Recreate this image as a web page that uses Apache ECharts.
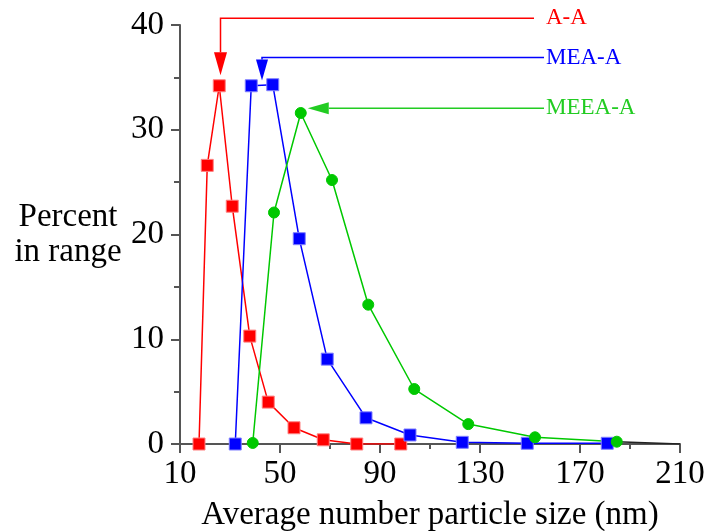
<!DOCTYPE html>
<html>
<head>
<meta charset="utf-8">
<script src="https://cdn.jsdelivr.net/npm/echarts@6/dist/echarts.min.js"></script>
<style>
  html, body { margin: 0; padding: 0; background: #fff; }
  #chart { width: 713px; height: 531px; }
</style>
</head>
<body>
<div id="chart"></div>
<script>
// particle size (nm) / percent in range
const aaSize = [17.6, 20.9, 25.7, 30.9, 37.9, 45.3, 55.6, 67.3, 80.7, 98.3];
const aaPct = [0, 26.6, 34.2, 22.7, 10.3, 4.0, 1.55, 0.4, 0, 0];

const meaSize = [32.1, 38.5, 47.1, 57.7, 68.9, 84.4, 102, 122.9, 148.9, 180.9];
const meaPct = [0, 34.2, 34.3, 19.6, 8.1, 2.5, 0.86, 0.16, 0.07, 0.07];

const meeaSize = [39.1, 47.6, 58.3, 70.8, 85.3, 103.7, 125.3, 152, 184.7];
const meeaPct = [0.1, 22.1, 31.6, 25.2, 13.3, 5.25, 1.9, 0.64, 0.22];

// black tail running to the end of the axis
const tailSize = [184.7, 210];
const tailPct = [0.22, 0];

const seriesNames = ['A-A', 'MEA-A', 'MEEA-A'];

const font = 'Liberation Serif';
const red = '#ff0000', blue = '#0000ff', green = '#00c800';

function pairs(xs, ys) {
    return xs.map((x, i) => [x, ys[i]]);
}

const chart = echarts.init(document.getElementById('chart'));

function mkSeries(name, xs, ys, color, symbol, size, border) {
    return {
        name: name,
        type: 'line',
        data: pairs(xs, ys),
        symbol: symbol,
        symbolSize: size,
        showAllSymbol: true,
        lineStyle: { color: color, width: 1.5 },
        itemStyle: { color: color, borderColor: border, borderWidth: 1, opacity: 1 },
        emphasis: { disabled: true },
        z: 3
    };
}

const option = {
    animation: false,
    grid: { left: 180, right: 33, top: 25, bottom: 87, outerBoundsMode: 'none', containLabel: false },
    xAxis: {
        type: 'value',
        min: 10,
        max: 210,
        interval: 40,
        name: 'Average number particle size (nm)',
        nameLocation: 'middle',
        nameGap: 55,
        nameTextStyle: { fontFamily: font, fontSize: 33, color: '#000' },
        axisLine: { lineStyle: { color: '#555', width: 2 } },
        axisTick: { length: 9, lineStyle: { color: '#555', width: 2 } },
        minorTick: { show: true, splitNumber: 2, length: 5, lineStyle: { color: '#555', width: 2 } },
        splitLine: { show: false },
        axisLabel: { fontFamily: font, fontSize: 33, color: '#000', margin: 14 }
    },
    yAxis: {
        type: 'value',
        min: 0,
        max: 40,
        interval: 10,
        name: 'Percent\nin range',
        nameLocation: 'middle',
        nameRotate: 0,
        nameGap: 112,
        nameTextStyle: {
            fontFamily: font, fontSize: 33, color: '#000', align: 'center',
            verticalAlign: 'middle', lineHeight: 35, padding: [22, 0, 0, 0]
        },
        axisLine: { show: true, lineStyle: { color: '#555', width: 2 } },
        axisTick: { show: true, length: 9, lineStyle: { color: '#555', width: 2 } },
        minorTick: { show: true, splitNumber: 2, length: 6, lineStyle: { color: '#555', width: 2 } },
        splitLine: { show: false },
        axisLabel: { fontFamily: font, fontSize: 33, color: '#000', margin: 16 }
    },
    series: [
        mkSeries(seriesNames[0], aaSize, aaPct, red, 'rect', 12, '#ff8080'),
        mkSeries(seriesNames[1], meaSize, meaPct, blue, 'rect', 12, '#8080ff'),
        mkSeries(seriesNames[2], meeaSize, meeaPct, green, 'circle', 11, green),
        {
            type: 'line',
            data: pairs(tailSize, tailPct),
            symbol: 'none',
            lineStyle: { color: '#222', width: 1.5 },
            emphasis: { disabled: true },
            z: 2
        }
    ]
};

chart.setOption(option);

// callout arrows, path given in data units, label sits just past the first point
const callouts = [
    { text: seriesNames[0], color: red, path: [[151.6, 40.64], [26.2, 40.64], [26.2, 35.2]], len: 23, half: 6.5, gap: 12 },
    { text: seriesNames[1], color: blue, path: [[155.6, 36.9], [42.8, 36.9], [42.8, 34.7]], len: 21, half: 6, gap: 2 },
    { text: seriesNames[2], color: '#22cc22', path: [[155.6, 32.05], [61.1, 32.05]], len: 21, half: 6, gap: 2 }
];

const elements = [];
callouts.forEach(c => {
    const px = c.path.map(p => chart.convertToPixel({ gridIndex: 0 }, p));
    const tip = px[px.length - 1];
    const prev = px[px.length - 2];
    const dx = tip[0] - prev[0], dy = tip[1] - prev[1];
    const d = Math.sqrt(dx * dx + dy * dy);
    const ux = dx / d, uy = dy / d;
    const bx = tip[0] - ux * c.len, by = tip[1] - uy * c.len;
    const linePts = px.slice(0, -1).concat([[bx, by]]);
    elements.push({
        type: 'polyline',
        shape: { points: linePts },
        style: { stroke: c.color, lineWidth: 1.5, fill: null },
        silent: true
    });
    elements.push({
        type: 'polygon',
        shape: { points: [tip, [bx - uy * c.half, by + ux * c.half], [bx + uy * c.half, by - ux * c.half]] },
        style: { fill: c.color },
        silent: true
    });
    elements.push({
        type: 'text',
        x: px[0][0] + c.gap,
        y: px[0][1],
        style: { text: c.text, fill: c.color, font: '23px "' + font + '"', verticalAlign: 'middle' },
        silent: true
    });
});

chart.setOption({ graphic: { elements: elements } });

window.addEventListener('resize', () => {
    chart.resize();
});
</script>
</body>
</html>
